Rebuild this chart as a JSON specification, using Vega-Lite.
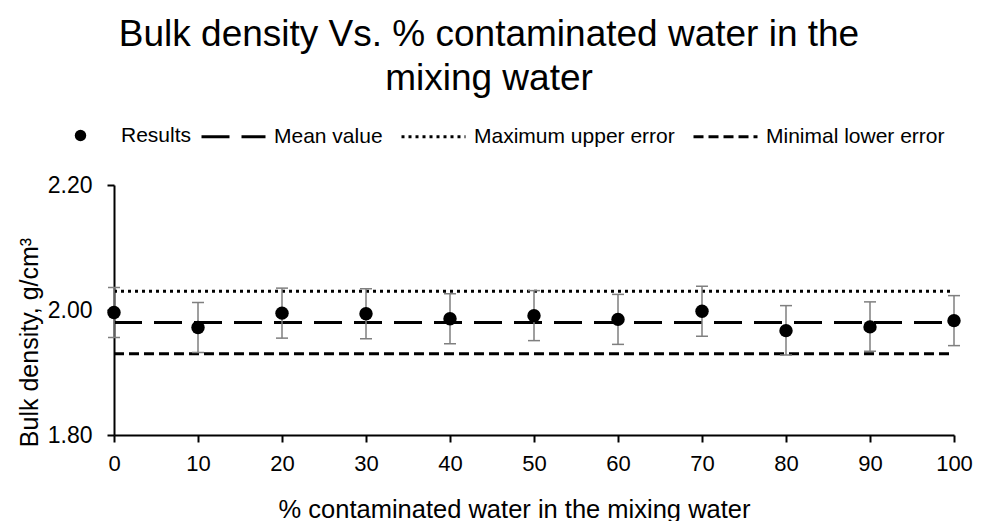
{
  "$schema": "https://vega.github.io/schema/vega-lite/v6.json",
  "autosize": "none",
  "width": 840,
  "height": 250,
  "padding": {"left": 114, "top": 185, "right": 27, "bottom": 86},
  "background": "white",
  "config": {
    "font": "Liberation Sans",
    "view": {"stroke": null},
    "axis": {"labelColor": "black", "titleColor": "black", "titleFontWeight": "normal", "domainColor": "black", "tickColor": "black", "domainWidth": 2, "tickWidth": 2, "tickSize": 7, "grid": false, "labelFont": "Liberation Sans", "titleFont": "Liberation Sans"},
    "legend": {"labelFont": "Liberation Sans", "labelColor": "black", "padding": 0, "labelLimit": 500}
  },
  "title": {
    "text": ["Bulk density Vs. % contaminated water in the", "mixing water"],
    "fontSize": 37,
    "fontWeight": "normal",
    "color": "black",
    "font": "Liberation Sans",
    "lineHeight": 44,
    "anchor": "middle",
    "frame": "group",
    "dx": -45,
    "dy": 5,
    "offset": 10
  },
  "datasets": {
    "points": [
      {"pct": 0, "density": 1.996, "lo": 1.956, "hi": 2.036, "kind": "Results"},
      {"pct": 10, "density": 1.972, "lo": 1.932, "hi": 2.012, "kind": "Results"},
      {"pct": 20, "density": 1.995, "lo": 1.955, "hi": 2.035, "kind": "Results"},
      {"pct": 30, "density": 1.994, "lo": 1.954, "hi": 2.034, "kind": "Results"},
      {"pct": 40, "density": 1.986, "lo": 1.946, "hi": 2.026, "kind": "Results"},
      {"pct": 50, "density": 1.991, "lo": 1.951, "hi": 2.031, "kind": "Results"},
      {"pct": 60, "density": 1.985, "lo": 1.945, "hi": 2.025, "kind": "Results"},
      {"pct": 70, "density": 1.998, "lo": 1.958, "hi": 2.038, "kind": "Results"},
      {"pct": 80, "density": 1.967, "lo": 1.928, "hi": 2.007, "kind": "Results"},
      {"pct": 90, "density": 1.973, "lo": 1.934, "hi": 2.013, "kind": "Results"},
      {"pct": 100, "density": 1.983, "lo": 1.943, "hi": 2.023, "kind": "Results"}
    ],
    "lines": [
      {"series": "Mean value", "pct": 0, "density": 1.98},
      {"series": "Mean value", "pct": 100, "density": 1.98},
      {"series": "Maximum upper error", "pct": 0, "density": 2.03},
      {"series": "Maximum upper error", "pct": 100, "density": 2.03},
      {"series": "Minimal lower error", "pct": 0, "density": 1.93},
      {"series": "Minimal lower error", "pct": 100, "density": 1.93}
    ]
  },
  "encoding": {
    "x": {
      "field": "pct", "type": "quantitative",
      "scale": {"domain": [0, 100], "nice": false},
      "axis": {"values": [0, 10, 20, 30, 40, 50, 60, 70, 80, 90, 100], "labelFontSize": 22, "labelPadding": 11, "labelFlush": false, "title": "% contaminated water in the mixing water", "titleFontSize": 25.5, "titleX": 400, "titleY": 82, "titleBaseline": "alphabetic"}
    },
    "y": {
      "field": "density", "type": "quantitative",
      "scale": {"domain": [1.8, 2.2], "nice": false, "zero": false},
      "axis": {"values": [1.8, 2.0, 2.2], "format": ".2f", "labelFontSize": 23, "labelPadding": 15, "title": "Bulk density, g/cm³", "titleFontSize": 25, "titleY": 157, "titlePadding": 5}
    }
  },
  "layer": [
    {
      "data": {"name": "lines"},
      "mark": {"type": "line", "color": "black", "strokeWidth": 3},
      "encoding": {
        "strokeDash": {
          "field": "series", "type": "nominal",
          "scale": {"domain": ["Mean value", "Maximum upper error", "Minimal lower error"], "range": [[28, 12], [3, 4], [10, 5]]},
          "legend": {"orient": "none", "direction": "horizontal", "legendX": 86, "legendY": -82, "title": null, "symbolType": "stroke", "symbolSize": 4096, "symbolStrokeWidth": 3, "symbolStrokeColor": "black", "labelFontSize": 21, "labelOffset": 7, "columnPadding": 12}
        }
      }
    },
    {
      "data": {"name": "points"},
      "mark": {"type": "rule", "color": "#7f7f7f", "strokeWidth": 1.5},
      "encoding": {"y": {"field": "lo", "type": "quantitative"}, "y2": {"field": "hi"}}
    },
    {
      "data": {"name": "points"},
      "mark": {"type": "tick", "orient": "horizontal", "color": "#7f7f7f", "size": 12, "thickness": 1.5, "opacity": 1},
      "encoding": {"y": {"field": "lo", "type": "quantitative"}}
    },
    {
      "data": {"name": "points"},
      "mark": {"type": "tick", "orient": "horizontal", "color": "#7f7f7f", "size": 12, "thickness": 1.5, "opacity": 1},
      "encoding": {"y": {"field": "hi", "type": "quantitative"}}
    },
    {
      "data": {"name": "points"},
      "mark": {"type": "point", "filled": true, "color": "black", "size": 180, "opacity": 1},
      "encoding": {
        "shape": {
          "field": "kind", "type": "nominal",
          "scale": {"domain": ["Results"], "range": ["circle"]},
          "legend": {"orient": "none", "legendX": -44, "legendY": -60, "title": null, "symbolSize": 130, "symbolFillColor": "black", "symbolStrokeColor": "black", "symbolOpacity": 1, "labelFontSize": 21, "labelOffset": 30}
        }
      }
    }
  ]
}
